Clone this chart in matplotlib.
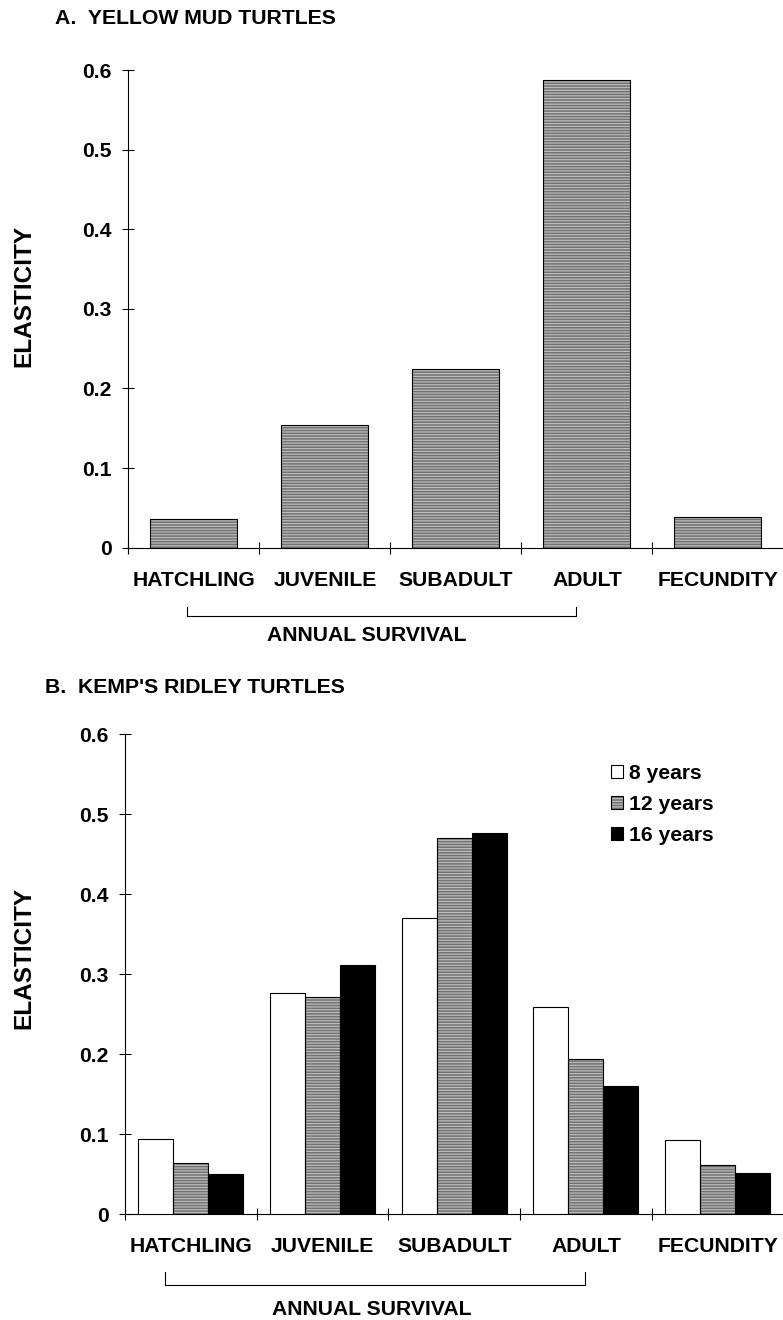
import matplotlib
matplotlib.use("Agg")
import matplotlib.pyplot as plt
import matplotlib.transforms as mtransforms
from matplotlib.patches import Patch
import numpy as np

plt.rcParams['font.family'] = ['Liberation Sans', 'DejaVu Sans']
plt.rcParams['font.weight'] = 'bold'
plt.rcParams['hatch.linewidth'] = 0.9

# data
stages = ['HATCHLING', 'JUVENILE', 'SUBADULT', 'ADULT', 'FECUNDITY']
mud_elasticity = [0.036, 0.154, 0.225, 0.588, 0.038]

ridley_labels = ['8 years', '12 years', '16 years']
ridley_8 = [0.094, 0.277, 0.371, 0.259, 0.093]
ridley_12 = [0.064, 0.271, 0.471, 0.194, 0.062]
ridley_16 = [0.051, 0.311, 0.477, 0.160, 0.052]

yticks = [0, 0.1, 0.2, 0.3, 0.4, 0.5, 0.6]
ytick_labels = ['0', '0.1', '0.2', '0.3', '0.4', '0.5', '0.6']

GRAY = '#727272'
HATCH_COL = '#bcbcbc'
W, H = 783, 1320
FS = 15.2

fig = plt.figure(figsize=(W / 100, H / 100), dpi=100)
ax1 = fig.add_axes([128.3 / W, 1 - 547.7 / H, 655.2 / W, 477.7 / H])
ax2 = fig.add_axes([125 / W, 1 - 1214.3 / H, 658.5 / W, 480 / H])


def hatched_bar(ax, x, vals, width):
    # grey face with light horizontal lines, black outline on top
    ax.bar(x, vals, width, color=GRAY, edgecolor=HATCH_COL, linewidth=0,
           hatch='------', zorder=2)
    ax.bar(x, vals, width, fill=False, edgecolor='black', linewidth=0.8,
           zorder=3)


def style_axes(ax):
    ax.set_xlim(-0.5, 4.5)
    ax.set_ylim(0, 0.6)
    for s in ['top', 'right']:
        ax.spines[s].set_visible(False)
    for s in ['left', 'bottom']:
        ax.spines[s].set_linewidth(0.8)
    ax.set_yticks(yticks)
    ax.set_yticklabels(ytick_labels)
    ax.tick_params(axis='y', direction='inout', length=8.6, width=0.8,
                   pad=7.5, labelsize=FS)
    ax.set_xticks(range(len(stages)))
    ax.set_xticklabels(stages)
    ax.tick_params(axis='x', which='major', length=0, pad=16.5, labelsize=FS)
    ax.set_xticks(np.arange(-0.5, 4.0, 1.0), minor=True)
    ax.tick_params(axis='x', which='minor', direction='inout', length=8.6,
                   width=0.8)


def bracket(ax, x0, x1, y_line, y_top, x_text, y_text):
    tr = mtransforms.blended_transform_factory(ax.transData, ax.transAxes)
    ax.plot([x0, x0, x1, x1], [y_top, y_line, y_line, y_top], color='black',
            lw=0.8, transform=tr, clip_on=False)
    ax.text(x_text, y_text, 'ANNUAL SURVIVAL', transform=tr, ha='center',
            va='center', fontsize=FS)


x = np.arange(len(stages))

# panel A
hatched_bar(ax1, x, mud_elasticity, 0.664)
style_axes(ax1)
bracket(ax1, -0.05, 2.918, -0.142, -0.1235, 1.32, -0.184)

# panel B
bw = 0.266
ax2.bar(x - bw, ridley_8, bw, color='white', edgecolor='black',
        linewidth=0.8, zorder=3)
hatched_bar(ax2, x, ridley_12, bw)
ax2.bar(x + bw, ridley_16, bw, color='black', edgecolor='black',
        linewidth=0.8, zorder=3)
style_axes(ax2)
bracket(ax2, -0.196, 2.993, -0.147, -0.12, 1.37, -0.198)

handles = [Patch(facecolor='white', edgecolor='black', linewidth=0.8),
           (Patch(facecolor=GRAY, edgecolor=HATCH_COL, linewidth=0,
                  hatch='------'),
            Patch(fill=False, edgecolor='black', linewidth=0.8)),
           Patch(facecolor='black', edgecolor='black', linewidth=0.8)]
ax2.legend(handles, ridley_labels, loc='upper left',
           bbox_to_anchor=(0.7376, 0.938), frameon=False, fontsize=FS,
           handlelength=0.6, handleheight=0.6, handletextpad=0.25,
           labelspacing=0.57, borderpad=0, borderaxespad=0)

# titles and axis labels
fig.text(55 / W, 1 - 19 / H, 'A.  YELLOW MUD TURTLES', ha='left',
         va='center', fontsize=15.3)
fig.text(45 / W, 1 - 687 / H, "B.  KEMP'S RIDLEY TURTLES", ha='left',
         va='center', fontsize=15.3)
fig.text(24 / W, 1 - 296 / H, 'ELASTICITY', rotation=90, ha='center',
         va='center', fontsize=17.6)
fig.text(24 / W, 1 - 958 / H, 'ELASTICITY', rotation=90, ha='center',
         va='center', fontsize=17.6)

fig.savefig('out.png', dpi=100)
